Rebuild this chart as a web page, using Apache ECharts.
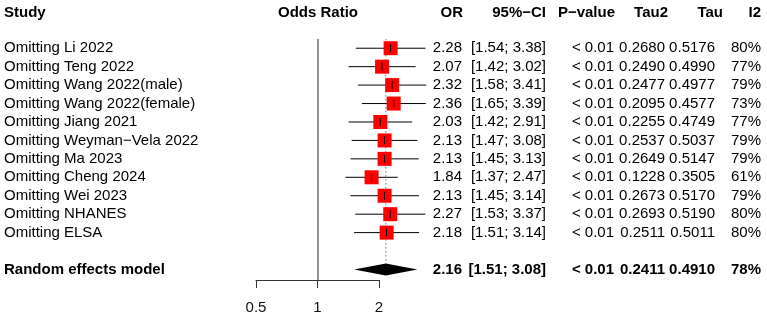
<!DOCTYPE html>
<html>
<head>
<meta charset="utf-8">
<script src="https://cdn.jsdelivr.net/npm/echarts@6/dist/echarts.min.js"></script>
<style>html,body{margin:0;padding:0;background:#fff}#c{width:767px;height:318px}</style>
</head>
<body>
<div id="c"></div>
<script>
const studies = ["Omitting Li 2022","Omitting Teng 2022","Omitting Wang 2022(male)","Omitting Wang 2022(female)","Omitting Jiang 2021","Omitting Weyman\u2212Vela 2022","Omitting Ma 2023","Omitting Cheng 2024","Omitting Wei 2023","Omitting NHANES","Omitting ELSA"];
const orVals = [2.28,2.07,2.32,2.36,2.03,2.13,2.13,1.84,2.13,2.27,2.18];
const lowerVals = [1.54,1.42,1.58,1.65,1.42,1.47,1.45,1.37,1.45,1.53,1.51];
const upperVals = [3.38,3.02,3.41,3.39,2.91,3.08,3.13,2.47,3.14,3.37,3.14];
const pTexts = ["< 0.01","< 0.01","< 0.01","< 0.01","< 0.01","< 0.01","< 0.01","< 0.01","< 0.01","< 0.01","< 0.01"];
const tau2Vals = [0.2680,0.2490,0.2477,0.2095,0.2255,0.2537,0.2649,0.1228,0.2673,0.2693,0.2511];
const tauVals = [0.5176,0.4990,0.4977,0.4577,0.4749,0.5037,0.5147,0.3505,0.5170,0.5190,0.5011];
const i2Vals = [80,77,79,73,77,79,79,61,79,80,80];
const pooledLabel = "Random effects model";
const pooledOR = 2.16, pooledLower = 1.51, pooledUpper = 3.08;
const pooledP = "< 0.01", pooledTau2 = 0.2411, pooledTau = 0.4910, pooledI2 = 78;
const xTicks = [0.5, 1, 2];
const headers = ["Study","Odds Ratio","OR","95%\u2212CI","P\u2212value","Tau2","Tau","I2"];

const FONT = '"Liberation Sans", Arial, Helvetica, sans-serif';
const pooledRow = studies.length + 1;

const chart = echarts.init(document.getElementById('c'), null, {renderer: 'canvas'});

// column layout (pixels)
const col = {study: 4, or: 462, ci: 546, p: 614, tau2: 665, tau: 715, i2: 761};
const hdr = {study: 4, oddsRatio: 318, or: 463, ci: 546, p: 615, tau2: 668, tau: 723, i2: 761};

const rowData = studies.map((s, i) => [i, orVals[i], lowerVals[i], upperVals[i]]);
const textData = studies.map((s, i) => [i, 0]);
textData.push([pooledRow, 1]);

function rowTexts(i, bold) {
  if (bold) {
    return [pooledLabel, pooledOR.toFixed(2), '[' + pooledLower.toFixed(2) + '; ' + pooledUpper.toFixed(2) + ']', pooledP, pooledTau2.toFixed(4), pooledTau.toFixed(4), pooledI2 + '%'];
  }
  return [studies[i], orVals[i].toFixed(2), '[' + lowerVals[i].toFixed(2) + '; ' + upperVals[i].toFixed(2) + ']', pTexts[i], tau2Vals[i].toFixed(4), tauVals[i].toFixed(4), i2Vals[i] + '%'];
}

const option = {
  animation: false,
  backgroundColor: '#fff',
  grid: {left: 256, right: 388, top: 39, bottom: 38, containLabel: false},
  xAxis: {
    type: 'log', logBase: 2, min: 0.5, max: 2, interval: 1, position: 'bottom',
    axisLine: {show: true, onZero: false, lineStyle: {color: '#333', width: 1}},
    axisTick: {show: true, length: 8, lineStyle: {color: '#333', width: 1}},
    axisLabel: {show: true, color: '#111', fontSize: 15, fontFamily: FONT, margin: 20, formatter: v => String(+v.toFixed(2))},
    splitLine: {show: false}
  },
  yAxis: {type: 'value', min: -0.5, max: 12.57, inverse: true, show: false},
  graphic: [
    {type: 'text', style: {text: headers[0], x: hdr.study, y: 13, textAlign: 'left', textVerticalAlign: 'middle', font: 'bold 15px ' + FONT, fill: '#000'}},
    {type: 'text', style: {text: headers[1], x: hdr.oddsRatio, y: 13, textAlign: 'center', textVerticalAlign: 'middle', font: 'bold 15px ' + FONT, fill: '#000'}},
    {type: 'text', style: {text: headers[2], x: hdr.or, y: 13, textAlign: 'right', textVerticalAlign: 'middle', font: 'bold 15px ' + FONT, fill: '#000'}},
    {type: 'text', style: {text: headers[3], x: hdr.ci, y: 13, textAlign: 'right', textVerticalAlign: 'middle', font: 'bold 15px ' + FONT, fill: '#000'}},
    {type: 'text', style: {text: headers[4], x: hdr.p, y: 13, textAlign: 'right', textVerticalAlign: 'middle', font: 'bold 15px ' + FONT, fill: '#000'}},
    {type: 'text', style: {text: headers[5], x: hdr.tau2, y: 13, textAlign: 'right', textVerticalAlign: 'middle', font: 'bold 15px ' + FONT, fill: '#000'}},
    {type: 'text', style: {text: headers[6], x: hdr.tau, y: 13, textAlign: 'right', textVerticalAlign: 'middle', font: 'bold 15px ' + FONT, fill: '#000'}},
    {type: 'text', style: {text: headers[7], x: hdr.i2, y: 13, textAlign: 'right', textVerticalAlign: 'middle', font: 'bold 15px ' + FONT, fill: '#000'}}
  ],
  series: [
    {
      // reference line at 1 and dotted pooled line
      type: 'custom', clip: false, silent: true, z: 1,
      data: [[pooledOR]],
      renderItem: function (params, api) {
        const top = api.coord([api.value(0), -0.5]);
        const bot = api.coord([api.value(0), pooledRow - 0.33]);
        return {type: 'line', shape: {x1: top[0], y1: top[1], x2: bot[0], y2: bot[1]}, style: {stroke: '#777', lineWidth: 1, lineDash: [1.5, 2.5]}};
      },
      markLine: {
        silent: true, symbol: 'none', label: {show: false},
        lineStyle: {color: '#707070', type: 'solid', width: 1.5},
        data: [{xAxis: 1}]
      }
    },
    {
      type: 'custom', clip: false, silent: true, z: 3,
      data: rowData,
      renderItem: function (params, api) {
        const row = api.value(0);
        const c = api.coord([api.value(1), row]);
        const l = api.coord([api.value(2), row]);
        const h = api.coord([api.value(3), row]);
        const s = 14;
        return {type: 'group', children: [
          {type: 'line', shape: {x1: l[0], y1: c[1], x2: h[0], y2: c[1]}, style: {stroke: '#000', lineWidth: 1}},
          {type: 'rect', shape: {x: c[0] - s / 2, y: c[1] - s / 2, width: s, height: s}, style: {fill: '#ff0000'}},
          {type: 'line', shape: {x1: c[0], y1: c[1] - 4, x2: c[0], y2: c[1] + 4}, style: {stroke: '#000', lineWidth: 1}}
        ]};
      }
    },
    {
      type: 'custom', clip: false, silent: true, z: 3,
      data: [[pooledRow, pooledOR, pooledLower, pooledUpper]],
      renderItem: function (params, api) {
        const row = api.value(0);
        const c = api.coord([api.value(1), row]);
        const l = api.coord([api.value(2), row]);
        const h = api.coord([api.value(3), row]);
        const hh = 6;
        return {type: 'polygon', shape: {points: [[l[0], c[1]], [c[0], c[1] - hh], [h[0], c[1]], [c[0], c[1] + hh]]}, style: {fill: '#000'}};
      }
    },
    {
      type: 'custom', clip: false, silent: true, z: 4,
      data: textData,
      renderItem: function (params, api) {
        const row = api.value(0);
        const bold = api.value(1) === 1;
        const y = api.coord([1, row])[1];
        const t = rowTexts(row, bold);
        const font = (bold ? 'bold ' : '') + '15px ' + FONT;
        const xs = [col.study, col.or, col.ci, col.p, col.tau2, col.tau, col.i2];
        return {type: 'group', children: t.map((txt, k) => ({
          type: 'text', style: {text: txt, x: xs[k], y: y, textAlign: k === 0 ? 'left' : 'right', textVerticalAlign: 'middle', font: font, fill: '#000'}
        }))};
      }
    }
  ]
};
chart.setOption(option);
</script>
</body>
</html>
